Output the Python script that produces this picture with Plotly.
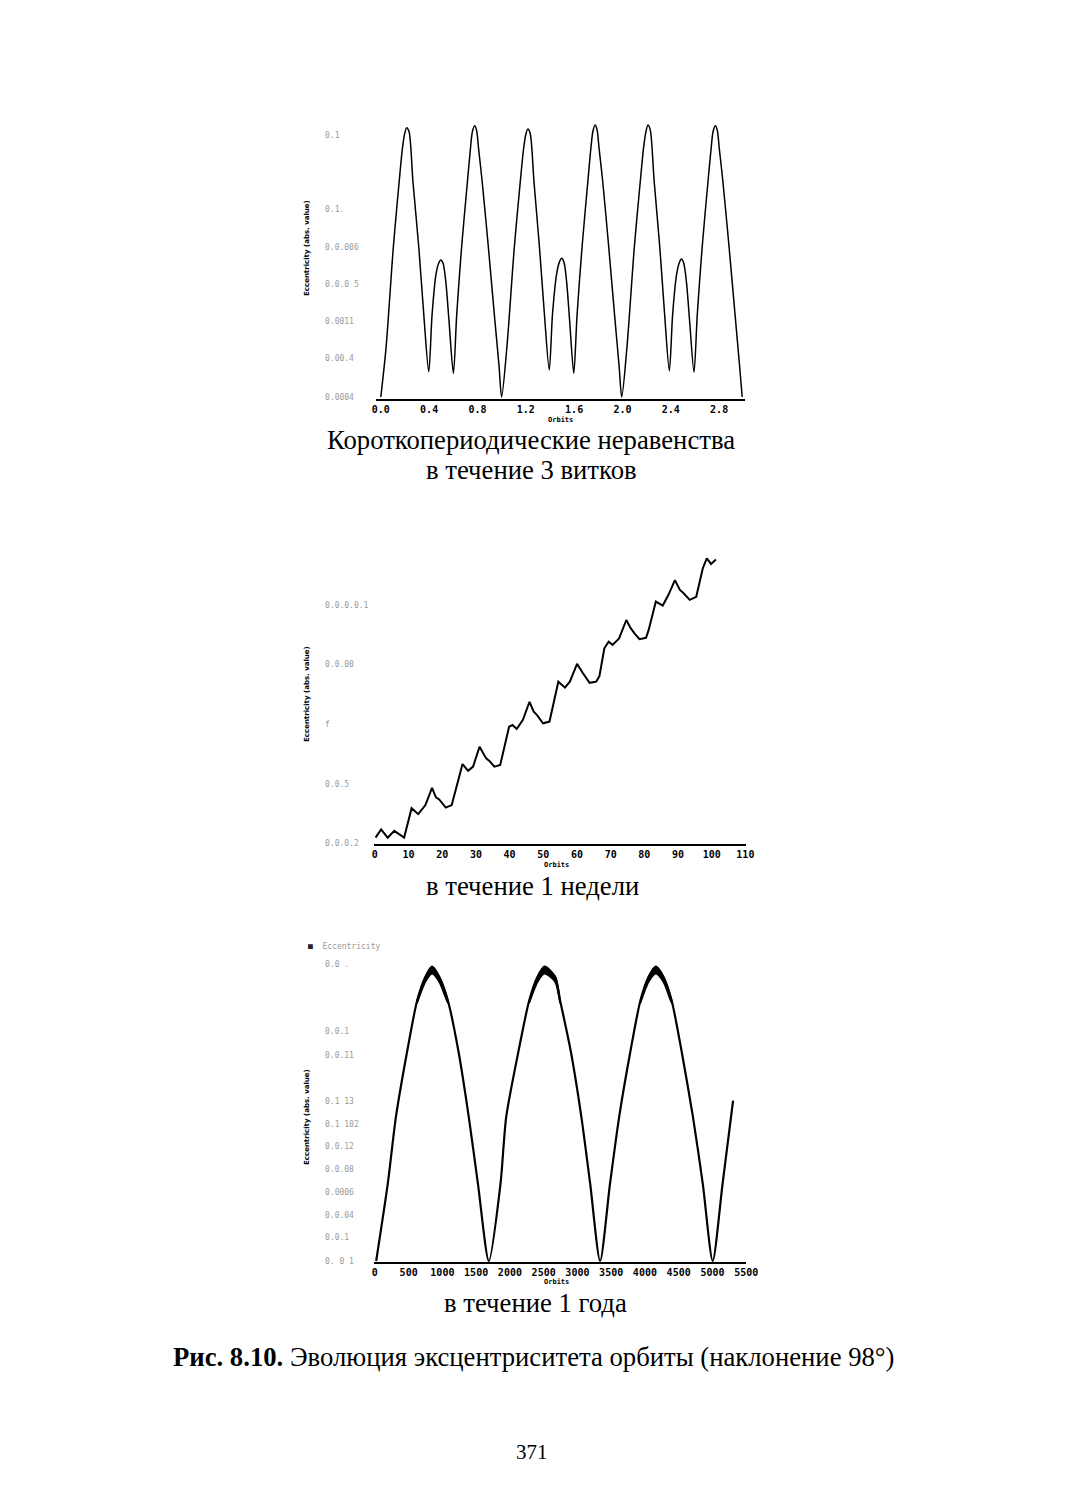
import plotly.graph_objects as go

# ---------------- data ----------------
# Plot 1: short-period variations over 3 orbits (normalised eccentricity units)
p1_orbits = [0.000, 0.043, 0.103, 0.152, 0.179, 0.198, 0.214, 0.234, 0.266, 0.315, 0.356, 0.397,
             0.424, 0.456, 0.478, 0.497, 0.516, 0.538, 0.565, 0.601, 0.628, 0.668, 0.717, 0.742,
             0.758, 0.777, 0.793, 0.809, 0.839, 0.891, 0.940, 0.978, 1.000,
             1.043, 1.104, 1.154, 1.181, 1.200, 1.217, 1.236, 1.268, 1.314, 1.354, 1.394,
             1.421, 1.455, 1.477, 1.497, 1.516, 1.537, 1.563, 1.597, 1.624, 1.665, 1.714, 1.739,
             1.756, 1.774, 1.790, 1.806, 1.836, 1.887, 1.935, 1.972, 1.994,
             2.037, 2.098, 2.148, 2.175, 2.194, 2.211, 2.230, 2.262, 2.309, 2.349, 2.388,
             2.415, 2.447, 2.469, 2.488, 2.507, 2.529, 2.556, 2.592, 2.619, 2.659, 2.708, 2.734,
             2.750, 2.769, 2.785, 2.801, 2.831, 2.883, 2.932, 2.969, 2.991]
p1_ecc = [0.000, 0.179, 0.547, 0.792, 0.914, 0.969, 0.990, 0.975, 0.792, 0.547, 0.301, 0.093,
          0.301, 0.449, 0.491, 0.504, 0.491, 0.424, 0.277, 0.087, 0.301, 0.547, 0.792, 0.914,
          0.975, 0.997, 0.980, 0.914, 0.792, 0.547, 0.301, 0.117, 0.000,
          0.180, 0.545, 0.790, 0.910, 0.965, 0.985, 0.970, 0.790, 0.545, 0.305, 0.099,
          0.305, 0.452, 0.495, 0.510, 0.495, 0.428, 0.280, 0.087, 0.300, 0.548, 0.795, 0.916,
          0.978, 1.000, 0.982, 0.916, 0.795, 0.548, 0.300, 0.115, 0.000,
          0.182, 0.550, 0.795, 0.918, 0.975, 1.000, 0.982, 0.795, 0.550, 0.303, 0.096,
          0.302, 0.448, 0.492, 0.507, 0.492, 0.425, 0.278, 0.091, 0.302, 0.548, 0.793, 0.915,
          0.976, 0.997, 0.980, 0.915, 0.793, 0.548, 0.302, 0.116, 0.000]
p1_xticks = [0.0, 0.4, 0.8, 1.2, 1.6, 2.0, 2.4, 2.8]
p1_xticklabels = ["0.0", "0.4", "0.8", "1.2", "1.6", "2.0", "2.4", "2.8"]
p1_yticks = [0.963, 0.688, 0.551, 0.412, 0.276, 0.140, 0.0]
p1_yticklabels = ["0.1", "0.1.", "0.0.006", "0.0.0 5", "0.0011", "0.00.4", "0.0004"]

# Plot 2: evolution over 1 week
p2_orbits = [0.2, 1.84, 3.8, 5.76, 8.68, 10.9, 12.87, 15.0, 16.96, 18.13, 19.09, 21.05, 22.81,
             26.02, 27.69, 29.15, 31.08, 33.04, 34.0, 35.47, 37.22, 39.85, 40.85, 42.11, 43.95,
             45.91, 47.16, 48.16, 49.91, 51.84, 54.47, 56.43, 57.89, 60.03, 61.78, 62.57, 63.74,
             65.7, 66.67, 68.13, 69.39, 70.56, 72.51, 74.65, 75.94, 77.19, 78.57, 80.5, 81.29,
             83.42, 85.47, 87.13, 89.09, 90.56, 91.52, 93.48, 95.41, 97.37, 98.54, 99.8, 101.26]
p2_ecc = [0.019, 0.048, 0.019, 0.043, 0.019, 0.123, 0.102, 0.134, 0.195, 0.161, 0.154, 0.125, 0.134,
          0.279, 0.255, 0.270, 0.340, 0.299, 0.290, 0.270, 0.276, 0.411, 0.417, 0.403, 0.435,
          0.499, 0.464, 0.452, 0.423, 0.429, 0.570, 0.549, 0.570, 0.633, 0.600, 0.588, 0.566,
          0.570, 0.590, 0.688, 0.711, 0.700, 0.723, 0.788, 0.759, 0.739, 0.720, 0.725, 0.753,
          0.853, 0.839, 0.876, 0.929, 0.894, 0.884, 0.859, 0.870, 0.971, 1.006, 0.986, 1.002]
p2_xticks = [0, 10, 20, 30, 40, 50, 60, 70, 80, 90, 100, 110]
p2_yticks = [0.841, 0.629, 0.420, 0.205, 0.0]
p2_yticklabels = ["0.0.0.0.1", "0.0.00", "f", "0.0.5", "0.0.0.2"]

# Plot 3: evolution over 1 year
p3_orbits = [19, 190, 311, 481, 627, 749, 846, 953, 1080, 1235, 1391, 1527, 1688,
             1860, 1945, 2130, 2287, 2410, 2513, 2670, 2743, 2899, 3059, 3190, 3336,
             3482, 3618, 3788, 3934, 4055, 4162, 4274, 4395, 4541, 4712, 4858, 5004,
             5150, 5306]
p3_ecc = [0.0, 0.261, 0.489, 0.716, 0.886, 0.966, 1.0, 0.966, 0.886, 0.716, 0.489, 0.261, 0.0,
          0.261, 0.489, 0.716, 0.886, 0.966, 1.0, 0.966, 0.886, 0.716, 0.489, 0.261, 0.0,
          0.261, 0.489, 0.716, 0.886, 0.966, 1.0, 0.966, 0.886, 0.716, 0.489, 0.261, 0.0,
          0.261, 0.545]
# short-period band (upper / lower envelope) near the maxima
p3_band_orbits = [[627, 749, 846, 953, 1080], [2287, 2410, 2513, 2670, 2743], [3934, 4055, 4162, 4274, 4395]]
p3_band_upper = [[0.886, 0.966, 1.0, 0.966, 0.886]] * 3
p3_band_lower = [[0.876, 0.948, 0.976, 0.948, 0.876]] * 3
p3_xticks = [0, 500, 1000, 1500, 2000, 2500, 3000, 3500, 4000, 4500, 5000, 5500]
p3_yticks = [1.006, 0.779, 0.697, 0.541, 0.464, 0.388, 0.312, 0.233, 0.155, 0.079, 0.0]
p3_yticklabels = ["0.0 .", "0.0.1", "0.0.11", "0.1 13", "0.1 102", "0.0.12", "0.0.08",
                  "0.0006", "0.0.04", "0.0.1", "0. 0 1"]

# ---------------- page geometry helpers ----------------
# the figure sits inside the page body margin; compensate so page pixels map directly
OFF_X, OFF_Y = 3.5, 8
W, H = 1051, 1484
def fx(p):
    return (p - OFF_X) / W
def fy(p):
    return 1 - (p - OFF_Y) / H

fig = go.Figure()

fig.add_trace(go.Scatter(x=p1_orbits, y=p1_ecc, mode="lines", xaxis="x", yaxis="y",
                         line=dict(color="black", width=1.5, shape="spline", smoothing=0.8),
                         showlegend=False))
fig.add_trace(go.Scatter(x=p2_orbits, y=p2_ecc, mode="lines", xaxis="x2", yaxis="y2",
                         line=dict(color="black", width=2), showlegend=False))
fig.add_trace(go.Scatter(x=p3_orbits, y=p3_ecc, mode="lines", xaxis="x3", yaxis="y3",
                         line=dict(color="black", width=2.2, shape="spline", smoothing=0.7),
                         showlegend=False))
for bx, bu, bl in zip(p3_band_orbits, p3_band_upper, p3_band_lower):
    fig.add_trace(go.Scatter(x=bx + bx[::-1], y=bu + bl[::-1], mode="lines", xaxis="x3", yaxis="y3",
                             fill="toself", fillcolor="black",
                             line=dict(color="black", width=1.5, shape="spline", smoothing=0.7),
                             showlegend=False))

tickfont = dict(family="DejaVu Sans Mono", size=10, color="black", weight="bold")
common_x = dict(showline=True, linecolor="black", linewidth=2, ticks="", showgrid=False,
                zeroline=False, tickfont=tickfont, tickangle=0)
common_y = dict(visible=False, showgrid=False, zeroline=False)

fig.update_layout(
    width=W, height=H, margin=dict(l=0, r=0, t=0, b=0),
    paper_bgcolor="white", plot_bgcolor="white",
    xaxis=dict(domain=[fx(373), fx(748)], range=[(373 - 378) / 122.7, (748 - 378) / 122.7],
               tickvals=p1_xticks, ticktext=p1_xticklabels, anchor="y", **common_x),
    yaxis=dict(domain=[fy(399), fy(115)], range=[-2 / 272, (397 - 115) / 272], anchor="x", **common_y),
    xaxis2=dict(domain=[fx(371), fx(749)], range=[-1 / 3.42, 377 / 3.42],
                tickvals=p2_xticks, anchor="y2", **common_x),
    yaxis2=dict(domain=[fy(844), fy(548)], range=[-1 / 283, (843 - 548) / 283], anchor="x2", **common_y),
    xaxis3=dict(domain=[fx(371), fx(749)], range=[-1 / 0.06855, 377 / 0.06855],
                tickvals=p3_xticks, anchor="y3", **common_x),
    yaxis3=dict(domain=[fy(1262), fy(950)], range=[-1 / 294.3, (1261 - 950) / 294.3], anchor="x3", **common_y),
)

ann = []
lab_font = dict(family="DejaVu Sans Mono", size=8, color="#9a9a9a")
for yref, vals, texts in (("y", p1_yticks, p1_yticklabels),
                          ("y2", p2_yticks, p2_yticklabels),
                          ("y3", p3_yticks, p3_yticklabels)):
    for v, t in zip(vals, texts):
        ann.append(dict(text=t, x=fx(319), xref="paper", xanchor="left", y=v, yref=yref,
                        yanchor="middle", showarrow=False, font=lab_font))

title_font = dict(family="DejaVu Sans", size=7, color="black", weight="bold")
for yc in (248, 694, 1117):
    ann.append(dict(text="Eccentricity (abs. value)", x=fx(303), y=fy(yc), xref="paper", yref="paper",
                    textangle=-90, showarrow=False, font=title_font, xanchor="center", yanchor="middle"))
orb_font = dict(family="DejaVu Sans Mono", size=7, color="black", weight="bold")
for xc, yc in ((560, 420), (556, 865), (556, 1282)):
    ann.append(dict(text="Orbits", x=fx(xc), y=fy(yc), xref="paper", yref="paper", showarrow=False,
                    font=orb_font, xanchor="center", yanchor="middle"))

ann.append(dict(text='<span style="color:#222">■</span>  Eccentricity', x=fx(302), y=fy(946),
                xref="paper", yref="paper", xanchor="left", yanchor="middle", showarrow=False,
                font=dict(family="DejaVu Sans Mono", size=8, color="#9a9a9a")))

cap_font = dict(family="Liberation Serif", size=26.7, color="black")
captions = [("Короткопериодические неравенства", 531, 440),
            ("в течение 3 витков", 531, 470),
            ("в течение 1 недели", 532, 886),
            ("в течение 1 года", 535, 1303)]
for t, xc, yc in captions:
    ann.append(dict(text=t, x=fx(xc), y=fy(yc), xref="paper", yref="paper", showarrow=False,
                    font=cap_font, xanchor="center", yanchor="middle"))
ann.append(dict(text="<b>Рис. 8.10.</b> Эволюция эксцентриситета орбиты (наклонение 98°)",
                x=fx(533), y=fy(1357), xref="paper", yref="paper", showarrow=False,
                font=cap_font, xanchor="center", yanchor="middle"))
ann.append(dict(text="371", x=fx(532), y=fy(1452), xref="paper", yref="paper", showarrow=False,
                font=dict(family="Liberation Serif", size=21, color="black"),
                xanchor="center", yanchor="middle"))

fig.update_layout(annotations=ann)
fig.write_html("out.html")
